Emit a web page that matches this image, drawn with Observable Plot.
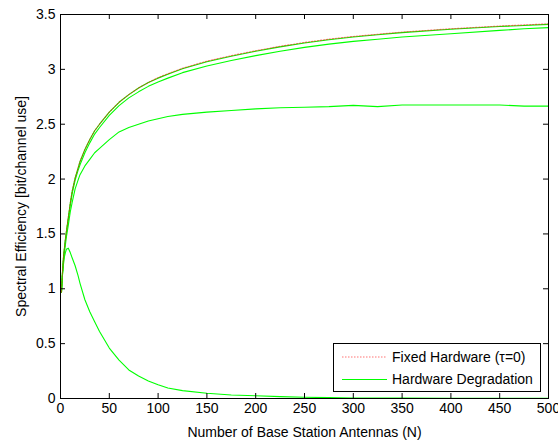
<!DOCTYPE html>
<html>
<head>
<meta charset="utf-8">
<script src="https://cdn.jsdelivr.net/npm/d3@7"></script>
<script src="https://cdn.jsdelivr.net/npm/@observablehq/plot@0.6"></script>
<style>
  html, body { margin: 0; padding: 0; background: #fff; }
</style>
</head>
<body>
<script>
// Number of base station antennas
const N = [1,2,3,4,5,6,8,10,12,15,18,20,25,30,35,40,50,60,70,80,90,100,110,125,150,175,200,225,250,275,300,325,350,400,450,475,500];

// Fixed hardware (tau = 0), red dotted
const fixedHW = [0.97,1.15,1.28,1.37,1.45,1.52,1.65,1.78,1.89,2.01,2.10,2.16,2.27,2.36,2.44,2.50,2.61,2.70,2.77,2.83,2.88,2.925,2.96,3.01,3.075,3.125,3.17,3.21,3.245,3.275,3.30,3.32,3.34,3.37,3.395,3.405,3.415];

// Hardware degradation curves (green)
const degr1 = [0.97,1.15,1.28,1.37,1.45,1.52,1.65,1.78,1.89,2.01,2.10,2.16,2.27,2.36,2.44,2.50,2.61,2.70,2.77,2.83,2.88,2.92,2.955,3.005,3.07,3.12,3.165,3.205,3.24,3.27,3.295,3.315,3.335,3.365,3.39,3.40,3.41];
const degr2 = [0.97,1.14,1.27,1.36,1.44,1.51,1.63,1.76,1.87,1.99,2.08,2.13,2.24,2.33,2.41,2.47,2.58,2.67,2.74,2.795,2.845,2.885,2.92,2.97,3.03,3.08,3.125,3.165,3.20,3.23,3.255,3.275,3.295,3.325,3.355,3.37,3.38];
const degr3 = [0.97,1.13,1.25,1.33,1.40,1.47,1.58,1.70,1.79,1.91,1.99,2.04,2.12,2.18,2.24,2.28,2.36,2.43,2.47,2.50,2.53,2.55,2.57,2.59,2.61,2.625,2.64,2.65,2.655,2.66,2.672,2.66,2.675,2.675,2.675,2.665,2.665];
const degr4 = [0.97,1.12,1.22,1.29,1.33,1.36,1.37,1.33,1.28,1.21,1.12,1.05,0.90,0.79,0.70,0.61,0.46,0.35,0.26,0.205,0.16,0.125,0.095,0.072,0.048,0.032,0.025,0.017,0.012,0.008,0.005,0.004,0.003,0.002,0.001,0.001,0.001];

// Ticks
const xTicks = [0,50,100,150,200,250,300,350,400,450,500];
const yTicks = [0,0.5,1,1.5,2,2.5,3,3.5];

// Legend
const legendLabels = ["Fixed Hardware (\u03c4=0)", "Hardware Degradation"];

const greenSeries = [degr1, degr2, degr3, degr4];
const greenRows = greenSeries.flatMap((s, k) => N.map((n, i) => ({n, v: s[i], k})));
const redRows = N.map((n, i) => ({n, v: fixedHW[i]}));

const font = "'Liberation Sans', Arial, sans-serif";
const yMin = yTicks[0], yMax = yTicks[yTicks.length - 1];
const xMin = xTicks[0], xMax = xTicks[xTicks.length - 1];

const chart = Plot.plot({
  width: 558,
  height: 441,
  marginLeft: 60,
  marginRight: 10,
  marginTop: 14,
  marginBottom: 43,
  style: {fontFamily: font, fontSize: "14px", color: "#000", background: "#fff"},
  x: {domain: [xMin, xMax]},
  y: {domain: [yMin, yMax]},
  marks: [
    Plot.line(greenRows, {x: "n", y: "v", z: "k", stroke: "#00ff00", strokeWidth: 1.1}),
    Plot.line(redRows, {x: "n", y: "v", stroke: "#ff0000", strokeWidth: 1.1, strokeOpacity: 0.55, strokeDasharray: "1.5,1.5"}),
    // inward ticks, bottom and top
    Plot.ruleX(xTicks, {x: d => d, y1: yMin, y2: yMin, insetBottom: 5, stroke: "#000"}),
    Plot.ruleX(xTicks, {x: d => d, y1: yMax, y2: yMax, insetBottom: -5, stroke: "#000"}),
    // inward ticks, left and right
    Plot.ruleY(yTicks, {y: d => d, x1: xMin, x2: xMin, insetRight: -5, stroke: "#000"}),
    Plot.ruleY(yTicks, {y: d => d, x1: xMax, x2: xMax, insetRight: 5, stroke: "#000"}),
    Plot.frame({stroke: "#000", strokeWidth: 1}),
    Plot.axisX(xTicks, {tickSize: 0, tickPadding: 5, tickFormat: d => `${d}`,
      label: "Number of Base Station Antennas (N)", labelAnchor: "center", labelArrow: "none", labelOffset: 38}),
    Plot.axisY(yTicks, {tickSize: 0, tickPadding: 5, tickFormat: d => `${d}`,
      label: "Spectral Efficiency [bit/channel use]", labelAnchor: "center", labelArrow: "none", labelOffset: 44})
  ]
});

document.body.appendChild(chart);

// Legend inside the plot area (bottom right)
const svg = d3.select(chart);
const lg = svg.append("g").attr("font-family", font).attr("font-size", 14).attr("text-anchor", "start");
lg.append("rect").attr("x", 333.5).attr("y", 343.5).attr("width", 207).attr("height", 48)
  .attr("fill", "#fff").attr("stroke", "#000").attr("stroke-width", 1);
const legendStyles = [
  {stroke: "#ff0000", opacity: 0.55, dash: "1.5,1.5"},
  {stroke: "#00ff00", opacity: 1, dash: "none"}
];
legendLabels.forEach((lab, i) => {
  const y = 357 + i * 22.5;
  const st = legendStyles[i];
  lg.append("path").attr("d", `M342,${y}H387`)
    .attr("fill", "none")
    .attr("stroke", st.stroke).attr("stroke-opacity", st.opacity).attr("stroke-width", 1.1)
    .attr("stroke-dasharray", st.dash);
  lg.append("text").attr("x", 392).attr("y", y).attr("dy", "0.35em")
    .attr("text-anchor", "start").attr("fill", "#000").text(lab);
});
</script>
</body>
</html>
